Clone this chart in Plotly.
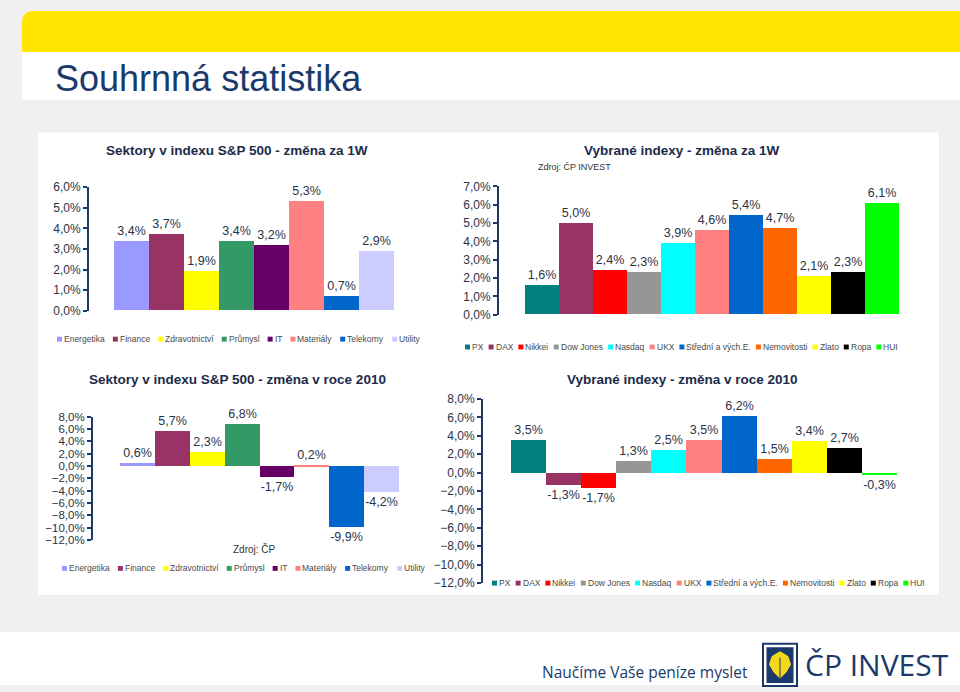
import unicodedata
import plotly.graph_objects as go

# ---------------- data ----------------
sectors = ["Energetika", "Finance", "Zdravotnictví", "Průmysl", "IT",
           "Materiály", "Telekomy", "Utility"]
sector_colors = ["#9999ff", "#993366", "#ffff00", "#339966", "#660066",
                 "#ff8080", "#0066cc", "#ccccff"]
sectors_1w = [3.4, 3.7, 1.9, 3.4, 3.2, 5.3, 0.7, 2.9]
sectors_2010 = [0.6, 5.7, 2.3, 6.8, -1.7, 0.2, -9.9, -4.2]

indices = ["PX", "DAX", "Nikkei", "Dow Jones", "Nasdaq", "UKX",
           "Střední a vých.E.", "Nemovitosti", "Zlato", "Ropa", "HUI"]
index_colors = ["#008080", "#993366", "#ff0000", "#969696", "#00ffff",
                "#ff8080", "#0066cc", "#ff6600", "#ffff00", "#000000", "#00ff00"]
indices_1w = [1.6, 5.0, 2.4, 2.3, 3.9, 4.6, 5.4, 4.7, 2.1, 2.3, 6.1]
indices_2010 = [3.5, -1.3, -1.7, 1.3, 2.5, 3.5, 6.2, 1.5, 3.4, 2.7, -0.3]

titles = ["Sektory v indexu S&P 500 - změna za 1W",
          "Vybrané indexy - změna za 1W",
          "Sektory v indexu S&P 500 - změna v roce 2010",
          "Vybrané indexy - změna v roce 2010"]

# ---------------- layout helpers ----------------
W, H = 960, 692
FONT = "Liberation Sans, Arial, sans-serif"
NAVY = "#1b3a6b"
AXIS = "#1f3864"
TXT = "#2a3346"


def fx(p):
    return p / W


def fy(p):
    return 1 - p / H


AW = {}
for c, w in zip("abcdefghijklmnopqrstuvwxyz",
                [556, 556, 500, 556, 556, 278, 556, 556, 222, 222, 500, 222, 833,
                 556, 556, 556, 556, 333, 500, 278, 556, 500, 722, 500, 500, 500]):
    AW[c] = w
for c, w in zip("ABCDEFGHIJKLMNOPQRSTUVWXYZ",
                [667, 667, 722, 722, 667, 611, 778, 722, 278, 500, 667, 556, 833,
                 722, 778, 667, 778, 722, 667, 611, 722, 667, 944, 667, 667, 611]):
    AW[c] = w
AW.update({" ": 278, ".": 278, ",": 278, ":": 278})


def text_w(s, size):
    return sum(AW.get(unicodedata.normalize("NFD", ch)[0], 556) for ch in s) * size / 1000


shapes = []
annotations = []

# page background pieces
r = 12
shapes.append(dict(type="path", xref="paper", yref="paper", layer="below",
                   path=(f"M {fx(22)},{fy(46)} L {fx(22)},{fy(4 + r)} "
                         f"Q {fx(22)},{fy(4)} {fx(22 + r)},{fy(4)} "
                         f"L {fx(960)},{fy(4)} L {fx(960)},{fy(46)} Z"),
                   fillcolor="#ffe500", line_width=0))
shapes.append(dict(type="rect", xref="paper", yref="paper", layer="below",
                   x0=fx(22), x1=fx(960), y0=fy(95), y1=fy(46),
                   fillcolor="white", line_width=0))
shapes.append(dict(type="rect", xref="paper", yref="paper", layer="below",
                   x0=fx(38), x1=fx(939), y0=fy(600), y1=fy(128),
                   fillcolor="white", line_width=0))
shapes.append(dict(type="rect", xref="paper", yref="paper", layer="below",
                   x0=0, x1=1, y0=0, y1=fy(638),
                   fillcolor="white", line_width=0))

annotations.append(dict(x=fx(53), y=fy(73), xref="paper", yref="paper",
                        xanchor="left", yanchor="middle", showarrow=False,
                        text="Souhrnná statistika",
                        font=dict(family=FONT, size=36, color=NAVY)))

# ---------------- charts ----------------
charts = [
    dict(cats=sectors, vals=sectors_1w, colors=sector_colors,
         axis_x=89, bar_l=114, bar_r=394, y_top=184, y_bot=310, yr=(0, 6), dtick=1,
         tfs=12, title_xy=(237, 146), leg=(57, 420, 339)),
    dict(cats=indices, vals=indices_1w, colors=index_colors,
         axis_x=499, bar_l=525, bar_r=899, y_top=183, y_bot=314, yr=(0, 7), dtick=1,
         tfs=12, title_xy=(682, 146), leg=(465, 898, 347)),
    dict(cats=sectors, vals=sectors_2010, colors=sector_colors,
         axis_x=93, bar_l=120, bar_r=399, y_top=418, y_bot=544, yr=(-12, 8), dtick=2,
         tfs=11.5, title_xy=(237, 380), leg=(62, 425, 573)),
    dict(cats=indices, vals=indices_2010, colors=index_colors,
         axis_x=483, bar_l=511, bar_r=897, y_top=400, y_bot=588, yr=(-12, 8), dtick=2,
         tfs=12, title_xy=(682, 380), leg=(492, 925, 588)),
]

layout_axes = {}
traces = []
for i, c in enumerate(charts, start=1):
    n = len(c["cats"])
    bw = (c["bar_r"] - c["bar_l"]) / n
    gap = (c["bar_l"] - c["axis_x"]) / bw
    right = c["bar_r"] + (c["bar_l"] - c["axis_x"])
    xa = "xaxis" if i == 1 else f"xaxis{i}"
    ya = "yaxis" if i == 1 else f"yaxis{i}"
    xr = "x" if i == 1 else f"x{i}"
    yr_ = "y" if i == 1 else f"y{i}"
    traces.append(go.Bar(
        x=c["cats"], y=c["vals"], marker=dict(color=c["colors"], line_width=0),
        width=1, texttemplate="%{y:.1f}%", textposition="outside",
        constraintext="none", cliponaxis=False,
        textfont=dict(family=FONT, size=12.5, color=TXT),
        xaxis=xr, yaxis=yr_, showlegend=False, hoverinfo="x+y"))
    layout_axes[xa] = dict(domain=[fx(c["axis_x"]), fx(right)], anchor=yr_,
                           type="category", range=[-0.5 - gap, n - 0.5 + gap],
                           showticklabels=False, showline=False, showgrid=False,
                           zeroline=False, ticks="")
    layout_axes[ya] = dict(domain=[fy(c["y_bot"]), fy(c["y_top"])], anchor=xr,
                           range=list(c["yr"]), dtick=c["dtick"], tick0=0,
                           tickformat=".1f", ticksuffix="%",
                           showline=True, linecolor=AXIS, linewidth=2,
                           ticks="outside", ticklen=4, tickwidth=2, tickcolor=AXIS,
                           showgrid=False, zeroline=False,
                           tickfont=dict(family=FONT, size=c["tfs"], color=TXT))
    tx, ty = c["title_xy"]
    annotations.append(dict(x=fx(tx), y=fy(ty), xref="paper", yref="paper",
                            xanchor="center", yanchor="middle", showarrow=False,
                            text=f"<b>{titles[i - 1]}</b>",
                            font=dict(family=FONT, size=13.5, color="#1c2b4a")))
    # legend row
    x0, x1, yc = c["leg"]
    size, sq, pad = 8.5, 5, 2
    widths = [sq + pad + text_w(nm, size) for nm in c["cats"]]
    g = (x1 - x0 - sum(widths)) / (n - 1)
    x = x0
    for nm, col, w in zip(c["cats"], c["colors"], widths):
        shapes.append(dict(type="rect", xref="paper", yref="paper",
                           x0=fx(x), x1=fx(x + sq), y0=fy(yc + sq / 2), y1=fy(yc - sq / 2),
                           fillcolor=col, line_width=0))
        annotations.append(dict(x=fx(x + sq + pad - 1), y=fy(yc), xref="paper", yref="paper",
                                xanchor="left", yanchor="middle", showarrow=False,
                                text=nm, borderpad=0,
                                font=dict(family=FONT, size=size, color="#4a4a4a")))
        x += w + g

fig = go.Figure(traces)

# source notes
annotations.append(dict(x=fx(536), y=fy(163), xref="paper", yref="paper",
                        xanchor="left", yanchor="middle", showarrow=False,
                        text="Zdroj: ČP INVEST",
                        font=dict(family=FONT, size=9, color="#333333")))
annotations.append(dict(x=fx(254), y=fy(553), xref="paper", yref="paper",
                        xanchor="center", yanchor="middle", showarrow=False,
                        text="Zdroj: ČP",
                        font=dict(family=FONT, size=10, color="#333333")))

# footer
annotations.append(dict(x=fx(750), y=fy(679), xref="paper", yref="paper",
                        xanchor="right", yanchor="middle", showarrow=False,
                        text="Naučíme Vaše peníze myslet",
                        font=dict(family="Open Sans, Noto Sans, sans-serif", size=15.5, color=NAVY)))
shapes.append(dict(type="rect", xref="paper", yref="paper",
                   x0=fx(763), x1=fx(797), y0=fy(693), y1=fy(650),
                   fillcolor="white", line=dict(color=NAVY, width=2)))
shapes.append(dict(type="rect", xref="paper", yref="paper",
                   x0=fx(766.5), x1=fx(793.5), y0=fy(690), y1=fy(653.5),
                   fillcolor=NAVY, line_width=0))
leaf = [(780, 658), (788, 663), (790.5, 671), (786, 679), (780, 685),
        (774, 679), (769.5, 671), (772, 663)]
shapes.append(dict(type="path", xref="paper", yref="paper",
                   path="M " + " L ".join(f"{fx(a)},{fy(b)}" for a, b in leaf) + " Z",
                   fillcolor="#f4d81c", line=dict(color="#f4d81c", width=1)))
shapes.append(dict(type="line", xref="paper", yref="paper",
                   x0=fx(780), x1=fx(780), y0=fy(689), y1=fy(664),
                   line=dict(color=NAVY, width=1)))
annotations.append(dict(x=fx(803), y=fy(671), xref="paper", yref="paper",
                        xanchor="left", yanchor="middle", showarrow=False,
                        text="ČP INVEST",
                        font=dict(family="Open Sans, Noto Sans, sans-serif", size=30, color=NAVY)))

fig.update_layout(
    width=W, height=H, margin=dict(l=0, r=0, t=0, b=0),
    paper_bgcolor="#f0f0f0", plot_bgcolor="rgba(0,0,0,0)",
    separators=",.", bargap=0, showlegend=False,
    font=dict(family=FONT),
    shapes=shapes, annotations=annotations,
    **layout_axes,
)

fig.write_html("out.html")
